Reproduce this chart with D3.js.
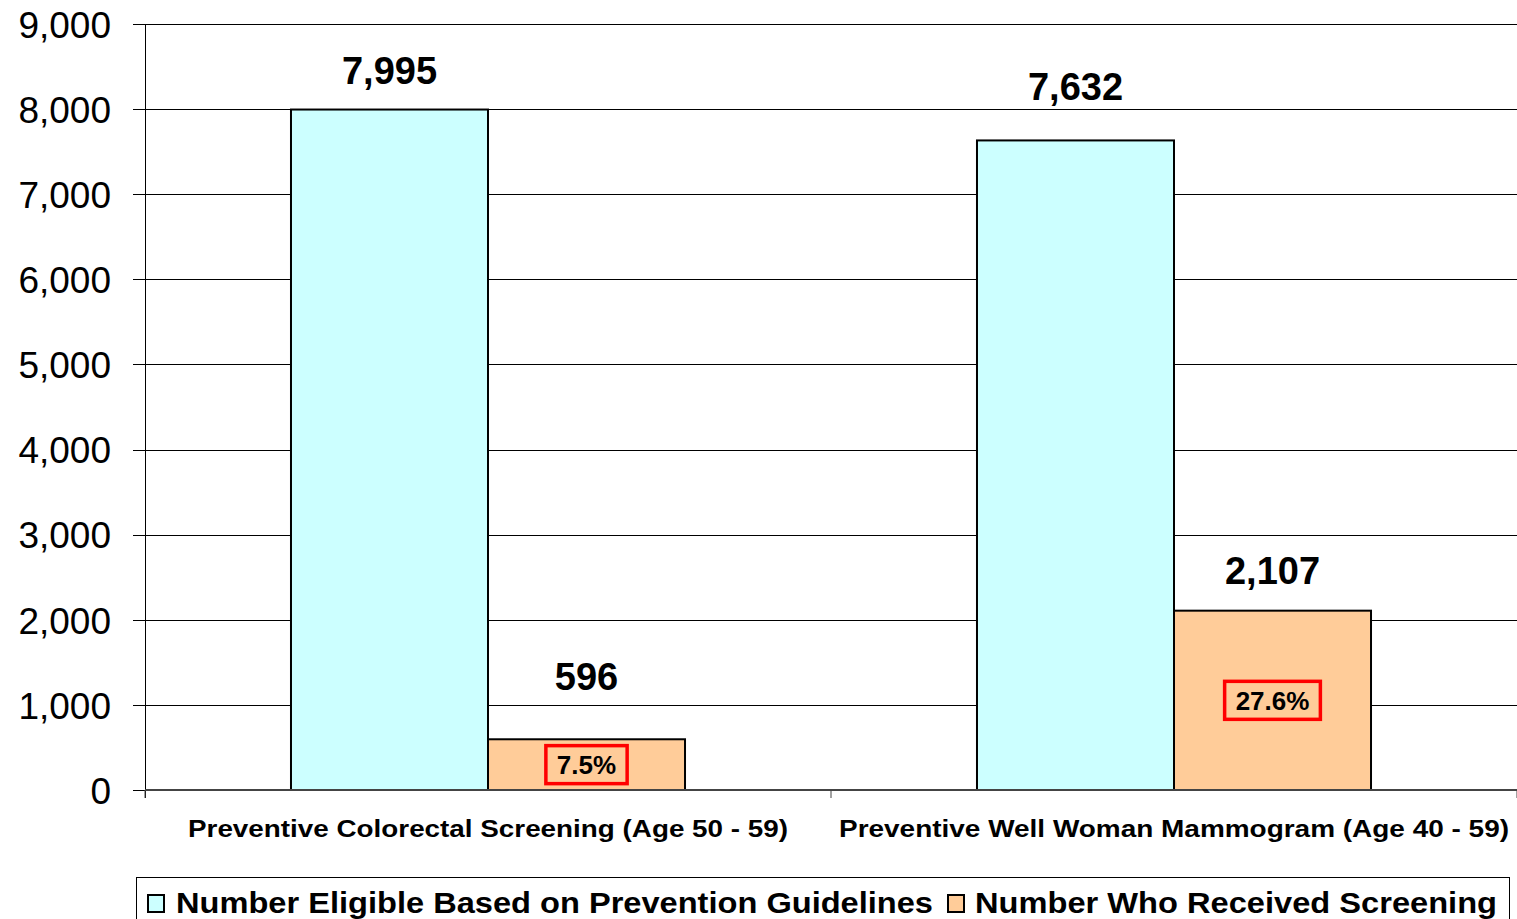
<!DOCTYPE html>
<html>
<head>
<meta charset="utf-8">
<script src="https://cdn.jsdelivr.net/npm/d3@7"></script>
<style>
  html, body { margin: 0; padding: 0; background: #fff; }
  svg { display: block; font-family: Arial, "Liberation Sans", sans-serif; }
</style>
</head>
<body>
<svg id="chart" width="1517" height="919"></svg>
<script>
// Screening program counts
const categories = [
  "Preventive Colorectal Screening (Age 50 - 59)",
  "Preventive Well Woman Mammogram (Age 40 - 59)"
];
const seriesNames = [
  "Number Eligible Based on Prevention Guidelines",
  "Number Who Received Screening"
];
const eligible = [7995, 7632];
const received = [596, 2107];
const yTicks = [0, 1000, 2000, 3000, 4000, 5000, 6000, 7000, 8000, 9000];

// Presentation settings
const seriesColors = ["#CCFFFF", "#FFCC99"];
// distance from bar top to value-label baseline, per category then series
const labelLift = [[26, 49], [40, 27]];

const svg = d3.select("#chart");
const plotLeft = 145, plotRight = 1517, plotTop = 24, plotBottom = 790;

const y = d3.scaleLinear().domain([0, 9000]).range([plotBottom, plotTop]);
const x0 = d3.scaleBand().domain(categories).range([plotLeft, plotRight]).paddingInner(0).paddingOuter(0);
const x1 = d3.scaleBand().domain(seriesNames).range([0, x0.bandwidth()]).paddingInner(0).paddingOuter(0.741);

// gridlines with outward tick marks
const yAxis = d3.axisLeft(y).tickValues(yTicks).tickSize(-(plotRight - plotLeft)).tickSizeOuter(0)
  .tickFormat(d3.format(","));
const gy = svg.append("g").attr("transform", `translate(${plotLeft},0)`).call(yAxis);
gy.select(".domain").remove();
gy.selectAll(".tick line").attr("x1", -12).attr("stroke", "#000").attr("stroke-width", 1)
  .attr("shape-rendering", "crispEdges");
gy.selectAll(".tick text").attr("x", -34).attr("dy", "0.36em")
  .style("font-size", "37px").style("font-family", "Arial, 'Liberation Sans', sans-serif").attr("fill", "#000");

// vertical axis line
svg.append("line").attr("x1", plotLeft).attr("x2", plotLeft).attr("y1", plotTop).attr("y2", plotBottom + 8)
  .attr("stroke", "#000").attr("stroke-width", 1).attr("shape-rendering", "crispEdges");

// bars
const rows = categories.map((c, i) => ({ cat: c, i, values: [eligible[i], received[i]] }));
const groups = svg.append("g").selectAll("g").data(rows).join("g")
  .attr("transform", d => `translate(${x0(d.cat)},0)`);

groups.selectAll("rect").data(d => d.values.map((v, j) => ({ v, j, s: seriesNames[j], i: d.i })))
  .join("rect")
  .attr("x", d => x1(d.s)).attr("width", x1.bandwidth())
  .attr("y", d => y(d.v)).attr("height", d => y(0) - y(d.v))
  .attr("fill", d => seriesColors[d.j]).attr("stroke", "#000").attr("stroke-width", 2);

// category baseline and ticks
svg.append("line").attr("x1", plotLeft).attr("x2", plotRight).attr("y1", plotBottom).attr("y2", plotBottom)
  .attr("stroke", "#444").attr("stroke-width", 2);
svg.append("g").selectAll("line").data(categories.concat(["end"])).join("line")
  .attr("x1", (d, k) => k < categories.length ? x0(d) : plotRight)
  .attr("x2", (d, k) => k < categories.length ? x0(d) : plotRight)
  .attr("y1", plotBottom).attr("y2", plotBottom + 8).attr("stroke", "#444").attr("stroke-width", 1);

// value labels
groups.selectAll("text.val").data(d => d.values.map((v, j) => ({ v, j, s: seriesNames[j], i: d.i })))
  .join("text").attr("class", "val")
  .attr("x", d => x1(d.s) + x1.bandwidth() / 2)
  .attr("y", d => y(d.v) - labelLift[d.i][d.j])
  .attr("text-anchor", "middle")
  .style("font-size", "38px").style("font-weight", "bold")
  .text(d => d3.format(",")(d.v));

// share screened, boxed inside the received bar
groups.each(function (d) {
  const g = d3.select(this);
  const pct = d3.format(".1f")(d.values[1] / d.values[0] * 100) + "%";
  const cx = x1(seriesNames[1]) + x1.bandwidth() / 2;
  const cy = (y(d.values[1]) + y(0)) / 2;
  const t = g.append("text").attr("x", cx).attr("y", cy).attr("dy", "0.36em")
    .attr("text-anchor", "middle").style("font-size", "26px").style("font-weight", "bold")
    .text(pct);
  const bb = t.node().getBBox();
  g.insert("rect", () => t.node())
    .attr("x", bb.x - 11).attr("y", cy - 19).attr("width", bb.width + 22).attr("height", 38)
    .attr("fill", "none").attr("stroke", "#FF0000").attr("stroke-width", 3.5);
});

// category labels
const catWidths = [600, 670];
svg.append("g").selectAll("text").data(categories).join("text")
  .attr("x", d => x0(d) + x0.bandwidth() / 2)
  .attr("y", 837).attr("text-anchor", "middle")
  .style("font-size", "24px").style("font-weight", "bold")
  .attr("textLength", (d, i) => catWidths[i]).attr("lengthAdjust", "spacingAndGlyphs")
  .text(d => d);

// legend
const legend = svg.append("g");
legend.append("rect").attr("x", 136.5).attr("y", 877.5).attr("width", 1373).attr("height", 60)
  .attr("fill", "#fff").attr("stroke", "#000").attr("stroke-width", 1);
const legendItems = [
  { name: seriesNames[0], sx: 148, tx: 176, w: 757 },
  { name: seriesNames[1], sx: 948, tx: 975, w: 522 }
];
legendItems.forEach((it, k) => {
  legend.append("rect").attr("x", it.sx).attr("y", 895).attr("width", 16).attr("height", 17)
    .attr("fill", seriesColors[k]).attr("stroke", "#000").attr("stroke-width", 2);
  legend.append("text").attr("x", it.tx).attr("y", 913)
    .style("font-size", "30px").style("font-weight", "bold")
    .attr("textLength", it.w).attr("lengthAdjust", "spacingAndGlyphs")
    .text(it.name);
});
</script>
</body>
</html>
